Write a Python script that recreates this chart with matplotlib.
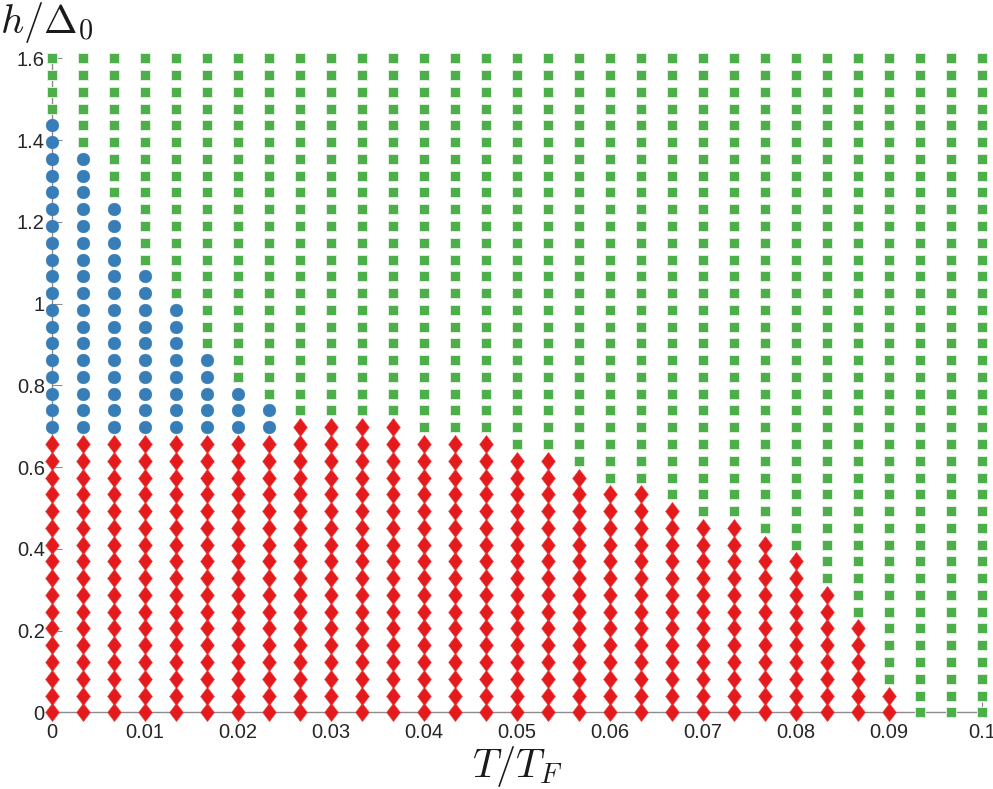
import numpy as np
import matplotlib
matplotlib.use("Agg")
import matplotlib.pyplot as plt
from matplotlib.path import Path

plt.rcParams['mathtext.fontset'] = 'cm'
plt.rcParams['font.family'] = ['Liberation Sans', 'DejaVu Sans']

# Grid of computed points
T_grid = np.linspace(0.0, 0.1, 31)      # T / T_F
h_grid = np.linspace(0.0, 1.6, 40)      # h / Delta_0

# For each T column: highest h-row index of the red (diamond) phase
red_top_idx = [16, 16, 16, 16, 16, 16, 16, 16,
               17, 17, 17, 17,
               16, 16, 16,
               15, 15, 14, 13, 13, 12, 11, 11, 10, 9, 7, 5, 1,
               -1, -1, -1]
# Highest h-row index of the blue (circle) phase (-1 = none)
blue_top_idx = [35, 33, 30, 26, 24, 21, 19, 18] + [-1] * 23

x_ticks = [0, 0.01, 0.02, 0.03, 0.04, 0.05, 0.06, 0.07, 0.08, 0.09, 0.1]
x_tick_labels = ['0', '0.01', '0.02', '0.03', '0.04', '0.05', '0.06', '0.07', '0.08', '0.09', '0.1']
y_ticks = [0, 0.2, 0.4, 0.6, 0.8, 1.0, 1.2, 1.4, 1.6]
y_tick_labels = ['0', '0.2', '0.4', '0.6', '0.8', '1', '1.2', '1.4', '1.6']

red_x, red_y, blue_x, blue_y, green_x, green_y = [], [], [], [], [], []
for i, T in enumerate(T_grid):
    for k, h in enumerate(h_grid):
        if k <= red_top_idx[i]:
            red_x.append(T); red_y.append(h)
        elif k <= blue_top_idx[i]:
            blue_x.append(T); blue_y.append(h)
        else:
            green_x.append(T); green_y.append(h)

fig = plt.figure(figsize=(9.93, 7.89), dpi=100)
ax = fig.add_axes([0.0521, 0.0972, 0.9371, 0.8289])

diamond = Path([(0, 1), (0.76, 0), (0, -1), (-0.76, 0), (0, 1)],
               [Path.MOVETO, Path.LINETO, Path.LINETO, Path.LINETO, Path.CLOSEPOLY])

ax.plot(green_x, green_y, linestyle='none', marker='s', markersize=7.6,
        markerfacecolor='#4daf4a', markeredgecolor='#dff0dc', markeredgewidth=0.7,
        clip_on=False, zorder=3)
ax.plot(blue_x, blue_y, linestyle='none', marker='o', markersize=9.2,
        markerfacecolor='#377eb8', markeredgecolor='#377eb8', markeredgewidth=0.3,
        clip_on=False, zorder=3)
ax.plot(red_x, red_y, linestyle='none', marker=diamond, markersize=13.0,
        markerfacecolor='#e41a1c', markeredgecolor='#e8403f', markeredgewidth=0.4,
        clip_on=False, zorder=3)

ax.set_xlim(0, 0.1)
ax.set_ylim(0, 1.6)
ax.set_xticks(x_ticks)
ax.set_xticklabels(x_tick_labels)
ax.set_yticks(y_ticks)
ax.set_yticklabels(y_tick_labels)

for s in ['top', 'right']:
    ax.spines[s].set_visible(False)
for s in ['left', 'bottom']:
    ax.spines[s].set_color('#8c8c8c')
    ax.spines[s].set_linewidth(1.0)
    ax.spines[s].set_zorder(1)

ax.tick_params(axis='both', direction='in', length=7, width=0.8, color='#8c8c8c',
               labelsize=14.5, labelcolor='#262626')
ax.tick_params(axis='x', pad=8)
ax.tick_params(axis='y', pad=5)

ax.set_xlabel(r'$T/T_F$', fontsize=29, labelpad=1, color='#1a1a1a')
fig.text(0.0, 0.958, r'$h/\Delta_0$', fontsize=29, ha='left', va='baseline', color='#1a1a1a')

fig.savefig('out.png', dpi=100)
